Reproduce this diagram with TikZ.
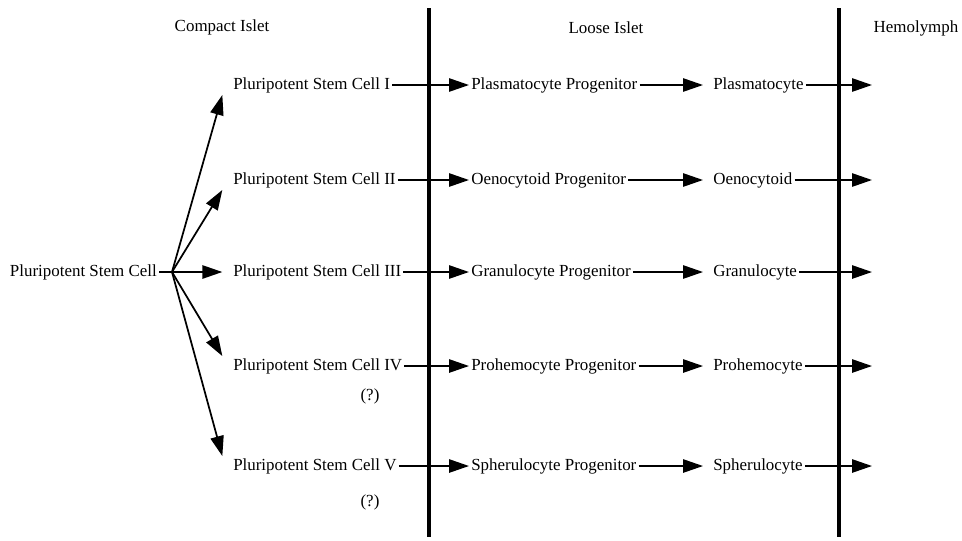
\documentclass[tikz,border=0pt]{standalone}
\usepackage{fontspec}
\setmainfont{Liberation Serif}
\usetikzlibrary{arrows.meta,positioning}

\begin{document}
\begin{tikzpicture}[
        x=0.75pt, y=-0.75pt,
        every node/.style={inner sep=1.5pt, font=\fontsize{12.7}{15}\selectfont},
        cell/.style={anchor=west},
        flow/.style={-{Triangle[length=15pt,width=10pt]}, line width=1.3pt},
        border/.style={line width=2.4pt}
    ]
  \useasboundingbox (0,0) rectangle (962,540);

  % Titles
  \node (compact) at (222,27) {Compact Islet};
  \node (loose) at (606,28) {Loose Islet};
  \node (hemo) at (916,28) {Hemolymph};

  % Borders
  \draw[border] (429,8) -- (429,537);
  \draw[border] (839,8) -- (839,537);

  % Nodes
  \node (root) [anchor=east] at (159,272) {Pluripotent Stem Cell};
  \coordinate (fan) at (172,272);

  \node (psc1) [cell] at (231,85) {Pluripotent Stem Cell I};
  \node (psc2) [cell] at (231,180) {Pluripotent Stem Cell II};
  \node (psc3) [cell] at (231,272) {Pluripotent Stem Cell III};
  \node (psc4) [cell] at (231,366) {Pluripotent Stem Cell IV};
  \node (psc5) [cell] at (231,466) {Pluripotent Stem Cell V};
  \node (q4) at (370,396) {(?)};
  \node (q5) at (370,502) {(?)};

  \node (prog1) [cell] at (469,85) {Plasmatocyte Progenitor};
  \node (prog2) [cell] at (469,180) {Oenocytoid Progenitor};
  \node (prog3) [cell] at (469,272) {Granulocyte Progenitor};
  \node (prog4) [cell] at (469,366) {Prohemocyte Progenitor};
  \node (prog5) [cell] at (469,466) {Spherulocyte Progenitor};

  \node (hem1) [cell] at (711,85) {Plasmatocyte};
  \node (hem2) [cell] at (711,180) {Oenocytoid};
  \node (hem3) [cell] at (711,272) {Granulocyte};
  \node (hem4) [cell] at (711,366) {Prohemocyte};
  \node (hem5) [cell] at (711,466) {Spherulocyte};

  \coordinate (out1) at (872,85);
  \coordinate (out2) at (872,180);
  \coordinate (out3) at (872,272);
  \coordinate (out4) at (872,366);
  \coordinate (out5) at (872,466);

  % Edges
  \draw[line width=1.3pt] (root) -- (fan);
  \draw[flow] (fan) -- ([xshift=-6.5pt]psc1.south west);
  \draw[flow] (fan) -- ([xshift=-6.5pt]psc2.south west);
  \draw[flow] (fan) -- ([xshift=-6.5pt]psc3.west);
  \draw[flow] (fan) -- ([xshift=-6.5pt]psc4.north west);
  \draw[flow] (fan) -- ([xshift=-6.5pt]psc5.north west);

  \draw[flow] (psc1) -- (prog1);
  \draw[flow] (psc2) -- (prog2);
  \draw[flow] (psc3) -- (prog3);
  \draw[flow] (psc4) -- (prog4);
  \draw[flow] (psc5) -- (prog5);

  \draw[flow, shorten >=6pt] (prog1) -- (hem1);
  \draw[flow, shorten >=6pt] (prog2) -- (hem2);
  \draw[flow, shorten >=6pt] (prog3) -- (hem3);
  \draw[flow, shorten >=6pt] (prog4) -- (hem4);
  \draw[flow, shorten >=6pt] (prog5) -- (hem5);

  \draw[flow] (hem1) -- (out1);
  \draw[flow] (hem2) -- (out2);
  \draw[flow] (hem3) -- (out3);
  \draw[flow] (hem4) -- (out4);
  \draw[flow] (hem5) -- (out5);
\end{tikzpicture}
\end{document}
